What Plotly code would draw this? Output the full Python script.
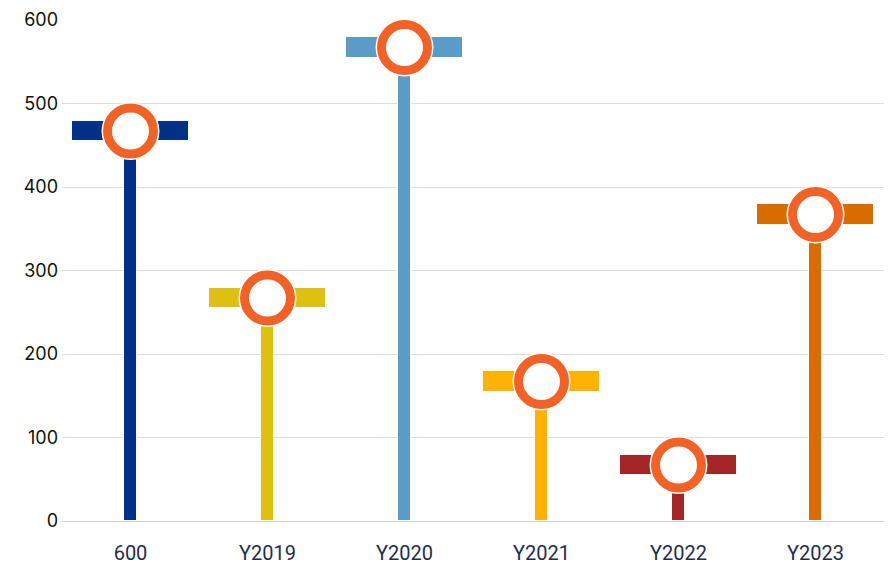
import plotly.graph_objects as go

categories = ["600", "Y2019", "Y2020", "Y2021", "Y2022", "Y2023"]
values = [467, 267, 567, 167, 67, 367]
colors = ["#003087", "#DEC010", "#5B9BC8", "#FFB300", "#A32526", "#D96C00"]
cap_half = 12.5
y_ticks = [0, 100, 200, 300, 400, 500, 600]

fig = go.Figure()

# stems
fig.add_trace(go.Bar(
    x=categories, y=values, width=0.09,
    marker=dict(color=colors, line=dict(color="white", width=1)),
    hoverinfo="skip", showlegend=False,
))
# caps (T-bars)
fig.add_trace(go.Bar(
    x=categories, y=[2 * cap_half] * len(values),
    base=[v - cap_half for v in values], width=0.855,
    marker=dict(color=colors, line=dict(color="white", width=1)),
    hoverinfo="skip", showlegend=False,
))
# white halo behind circle
fig.add_trace(go.Scatter(
    x=categories, y=values, mode="markers",
    marker=dict(size=58, color="white", line=dict(width=0)),
    hoverinfo="skip", showlegend=False,
))
# orange ring
fig.add_trace(go.Scatter(
    x=categories, y=values, mode="markers",
    marker=dict(size=46, color="white", line=dict(color="#F26125", width=9)),
    showlegend=False,
))

# page body has an 8px default margin, so the figure is sized to compensate
fig.update_layout(
    width=888, height=572,
    margin=dict(l=54, r=12, t=12, b=59),
    barmode="overlay",
    plot_bgcolor="white", paper_bgcolor="white",
    bargap=0,
)
fig.update_xaxes(
    type="category", automargin=False, range=[-0.5, 5.5],
    showgrid=False, showline=False, zeroline=False,
    tickfont=dict(family="Roboto", size=20, color="#1F2D4D"),
    ticklabelstandoff=18,
)
fig.update_yaxes(
    range=[0, 600], tickvals=y_ticks, automargin=False,
    showgrid=True, gridcolor="#DCDCDC", gridwidth=1,
    zeroline=True, zerolinecolor="#D0D0D0", zerolinewidth=1,
    showline=False,
    tickfont=dict(family="Inter", size=18, color="#111111"),
    ticklabelstandoff=3,
)

fig.write_html("out.html")
